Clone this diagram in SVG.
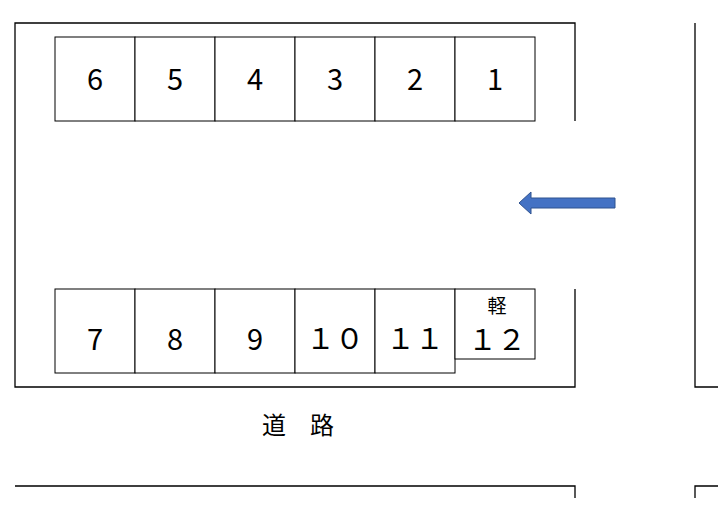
<svg xmlns="http://www.w3.org/2000/svg" width="718" height="511" viewBox="0 0 718 511">
<style>
.l{fill:none;stroke:#000;stroke-width:1.3}
.s{fill:#fff;stroke:#000;stroke-width:1}
.t{font-family:"Noto Sans CJK JP","Liberation Sans",sans-serif;font-size:29px;text-anchor:middle;fill:#000}
</style>
<rect width="718" height="511" fill="#fff"/>
<g id="lot"><path class="l" d="M575 121V23H15V387H575V289"/></g>
<g id="right"><path class="l" d="M718 387H695V23"/><path class="l" d="M718 486H695V498"/></g>
<g id="bottom"><path class="l" d="M15 486H575V498"/></g>
<g id="s6"><rect class="s" x="55" y="37" width="80" height="84"/><text class="t" x="95" y="90">6</text></g>
<g id="s5"><rect class="s" x="135" y="37" width="80" height="84"/><text class="t" x="175" y="90">5</text></g>
<g id="s4"><rect class="s" x="215" y="37" width="80" height="84"/><text class="t" x="255" y="90">4</text></g>
<g id="s3"><rect class="s" x="295" y="37" width="80" height="84"/><text class="t" x="335" y="90">3</text></g>
<g id="s2"><rect class="s" x="375" y="37" width="80" height="84"/><text class="t" x="415" y="90">2</text></g>
<g id="s1"><rect class="s" x="455" y="37" width="80" height="84"/><text class="t" x="495" y="90">1</text></g>
<g id="s7"><rect class="s" x="55" y="289" width="80" height="84"/><text class="t" x="95" y="350">7</text></g>
<g id="s8"><rect class="s" x="135" y="289" width="80" height="84"/><text class="t" x="175" y="350">8</text></g>
<g id="s9"><rect class="s" x="215" y="289" width="80" height="84"/><text class="t" x="255" y="350">9</text></g>
<g id="s10"><rect class="s" x="295" y="289" width="80" height="84"/><text class="t" x="335" y="349">１０</text></g>
<g id="s11"><rect class="s" x="375" y="289" width="80" height="84"/><text class="t" x="415" y="349">１１</text></g>
<g id="s12"><rect class="s" x="455" y="289" width="80" height="70"/><text class="t" x="497" y="313" style="font-size:19px">軽</text><text class="t" x="497" y="350">１２</text></g>
<g id="road"><text class="t" x="298" y="434" style="font-size:24px">道　路</text></g>
<g id="connectors"><path d="M615 198H531V192L519 203L531 214V208H615Z" fill="#4472C4" stroke="#2F528F" stroke-width="1"/></g>
</svg>
